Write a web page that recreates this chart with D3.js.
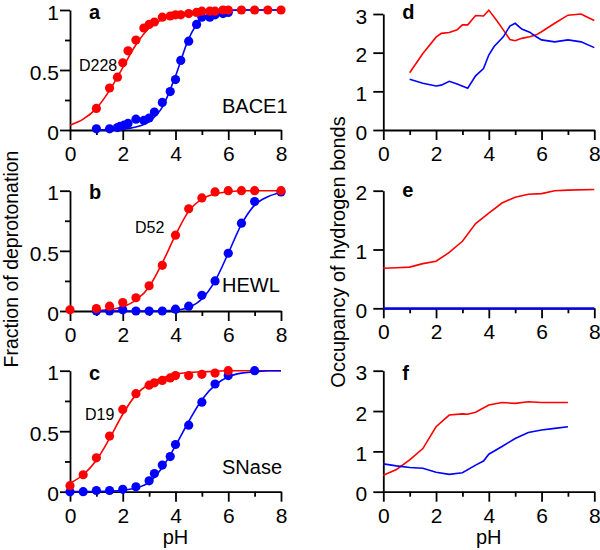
<!DOCTYPE html>
<html><head><meta charset="utf-8">
<script src="https://cdn.jsdelivr.net/npm/d3@7/dist/d3.min.js"></script>
<style>
body{margin:0;background:#fff;}
svg text{font-family:"Liberation Sans",Arial,Helvetica,sans-serif;fill:#000;}
</style></head><body>
<svg id="chart" width="600" height="550"></svg>
<script>
// ---------- DATA ----------
const fitPH = [0,0.5,1,1.5,2,2.5,3,3.5,4,4.5,5,5.5,6,6.5,7,7.5,8];

// Panel a: BACE1
const aRedPH  = [1.0,1.5,1.8,2.0,2.2,2.5,2.8,3.0,3.2,3.5,3.8,4.0,4.2,4.5,4.8,5.0,5.3,5.5,5.8,6.0,6.5,7.0,7.5,8.0];
const aRedVal = [0.18,0.35,0.44,0.56,0.66,0.75,0.85,0.88,0.90,0.94,0.95,0.96,0.96,0.97,0.98,0.99,0.99,0.99,1.0,1.0,1.0,1.0,1.0,1.0];
const aBluePH  = [1.0,1.5,1.8,1.9,2.05,2.2,2.5,2.8,3.0,3.2,3.5,3.8,4.0,4.2,4.5,4.8,5.0,5.3,5.5,5.8,6.0];
const aBlueVal = [0.01,0.01,0.02,0.03,0.04,0.055,0.09,0.08,0.10,0.15,0.23,0.32,0.42,0.58,0.74,0.88,0.94,0.94,0.96,0.97,0.98];
const aRedFit  = [0.04,0.09,0.18,0.33,0.52,0.71,0.85,0.92,0.96,0.98,0.99,0.995,1,1,1,1,1];
const aBlueFit = [null,null,0,0.003,0.008,0.025,0.07,0.19,0.45,0.76,0.93,0.98,0.995,1,1,1,1];

// Panel b: HEWL
const bRedPH  = [0,1,1.5,2,2.5,3,3.5,4,4.5,5,5.5,6,6.5,7,8];
const bRedVal = [0.01,0.02,0.04,0.07,0.11,0.21,0.38,0.63,0.85,0.94,0.99,1,1,1,1];
const bBluePH  = [1,1.5,2,2.5,3,3.5,4,4.5,5,5.5,6,6.5,7,8];
const bBlueVal = [0,0,0.01,0,0,0,0.015,0.04,0.13,0.25,0.48,0.73,0.91,0.99];
const bRedFit  = [null,null,0.005,0.012,0.035,0.09,0.2,0.4,0.63,0.83,0.93,0.975,0.99,1,1,1,1];
const bBlueFit = [null,null,0,0,0,0,0,0.001,0.008,0.03,0.1,0.25,0.48,0.72,0.88,0.95,0.985];

// Panel c: SNase
const cRedPH  = [0,0.5,1,1.5,2,2.5,3,3.2,3.5,3.8,4,4.5,5,5.5,6];
const cRedVal = [0.05,0.14,0.28,0.46,0.68,0.81,0.88,0.90,0.92,0.94,0.96,0.96,0.97,0.98,1.0];
const cBluePH  = [0,0.5,1,1.5,2,2.5,3,3.2,3.5,3.8,4,4.5,5,5.5,6,7];
const cBlueVal = [0,0,0.01,0.01,0.02,0.04,0.09,0.15,0.22,0.29,0.39,0.55,0.74,0.89,0.96,1.0];
const cRedFit  = [0.07,0.14,0.26,0.44,0.64,0.8,0.89,0.94,0.97,0.985,0.99,0.995,1,1,1,1,1];
const cBlueFit = [0,0.001,0.002,0.005,0.012,0.03,0.08,0.2,0.38,0.58,0.76,0.88,0.95,0.98,0.99,1,1];

// Panel d: BACE1 hydrogen bonds
const dRedPH  = [1.0,1.5,2.0,2.2,2.5,2.8,3.0,3.2,3.5,3.8,4.0,4.3,4.55,4.8,5.0,5.25,5.55,5.8,6.0,6.5,7.0,7.5,7.7,8.0];
const dRedVal = [1.48,1.98,2.40,2.50,2.52,2.59,2.72,2.72,2.96,2.95,3.10,2.83,2.59,2.34,2.31,2.37,2.41,2.46,2.54,2.76,2.97,3.0,2.93,2.83];
const dBluePH  = [1.0,1.5,2.0,2.2,2.5,2.8,3.2,3.5,3.8,4.0,4.2,4.55,4.8,5.0,5.25,5.55,5.8,6.0,6.5,7.0,7.5,8.0];
const dBlueVal = [1.31,1.21,1.14,1.16,1.26,1.19,1.08,1.40,1.59,1.94,2.16,2.41,2.69,2.76,2.61,2.53,2.41,2.33,2.28,2.33,2.28,2.13];

// Panel e: HEWL hydrogen bonds
const ePH      = [0,0.5,1,1.5,2,2.5,3,3.5,4,4.5,5,5.5,6,6.5,7,8];
const eRedVal  = [0.68,0.69,0.70,0.76,0.80,0.95,1.14,1.44,1.62,1.79,1.89,1.94,1.95,2.0,2.01,2.02];
const eBlueVal = [0,0,0,0,0,0,0,0,0,0,0,0,0,0,0,0];

// Panel f: SNase hydrogen bonds
const fRedPH   = [0,0.5,1,1.5,2,2.5,3,3.2,3.5,4,4.5,5,5.5,6,6.5,7];
const fRedVal  = [0.41,0.55,0.79,1.07,1.61,1.90,1.93,1.92,1.97,2.15,2.21,2.19,2.23,2.21,2.21,2.21];
const fBluePH  = [0,0.5,1,1.5,2,2.5,3,3.5,3.8,4,4.5,5,5.5,6,6.5,7];
const fBlueVal = [0.69,0.64,0.60,0.58,0.48,0.43,0.47,0.66,0.76,0.93,1.12,1.32,1.47,1.53,1.57,1.61];

const xTicksMajor = [0,2,4,6,8];
const xTicksMinor = [1,3,5,7];

// ---------- DRAW ----------
const RED = "#ff0000", BLUE = "#0000ff";
const svg = d3.select("#chart");
const zip = (xs, ys) => xs.map((x,i)=>({x, y: ys[i]})).filter(d => d.y !== null);

function panel(opt){
  const x = d3.scaleLinear().domain([0,8]).range(opt.xr);
  const y = d3.scaleLinear().domain(opt.yd).range(opt.yr);
  const g = svg.append("g");
  const fmt = d => String(d);
  // x axis
  g.append("g").attr("transform",`translate(0,${opt.yr[0]})`)
    .call(d3.axisBottom(x).tickValues(xTicksMajor).tickSize(10).tickSizeOuter(0).tickPadding(6).tickFormat(fmt));
  g.append("g").attr("transform",`translate(0,${opt.yr[0]})`)
    .call(d3.axisBottom(x).tickValues(xTicksMinor).tickSize(5).tickSizeOuter(0).tickFormat(""))
    .select(".domain").remove();
  // y axis
  const ya = g.append("g").attr("transform",`translate(${opt.xr[0]},0)`)
    .call(d3.axisLeft(y).tickValues(opt.yMajor).tickSize(10).tickSizeOuter(0).tickPadding(opt.yPad).tickFormat(fmt));
  ya.selectAll(".tick text").attr("dy","0.44em");
  if(opt.yMinor){
    g.append("g").attr("transform",`translate(${opt.xr[0]},0)`)
      .call(d3.axisLeft(y).tickValues(opt.yMinor).tickSize(5).tickSizeOuter(0).tickFormat(""))
      .select(".domain").remove();
  }
  g.selectAll(".domain, .tick line").attr("stroke","#000").attr("stroke-width",1.8);
  g.selectAll(".tick text").attr("font-size",21).attr("fill","#000")
    .style("font-family",'"Liberation Sans",Arial,sans-serif');
  // fits
  const line = d3.line().x(d=>x(d.x)).y(d=>y(d.y));
  (opt.fits||[]).forEach(f=>{
    g.append("path").datum(zip(fitPH,f.v)).attr("fill","none").attr("stroke",f.c)
      .attr("stroke-width",1.6).attr("d", line.curve(d3.curveMonotoneX));
  });
  (opt.lines||[]).forEach(f=>{
    g.append("path").datum(zip(f.px,f.v)).attr("fill","none").attr("stroke",f.c)
      .attr("stroke-width",f.w||1.6).attr("d", d3.line().x(d=>x(d.x)).y(d=>y(d.y)));
  });
  (opt.pts||[]).forEach(f=>{
    g.append("g").selectAll("circle").data(zip(f.px,f.v)).join("circle")
      .attr("cx",d=>x(d.x)).attr("cy",d=>y(d.y)).attr("r",4.6).attr("fill",f.c);
  });
  // panel letter
  g.append("text").attr("x",opt.xr[0]+19).attr("y",opt.letterY).attr("font-size",20)
    .attr("font-weight","bold").text(opt.letter);
  (opt.labels||[]).forEach(l=>{
    g.append("text").attr("x",l.x).attr("y",l.y).attr("font-size",l.s).text(l.t);
  });
  return g;
}

const LX = [70,281], RX = [383.3,594.3];

panel({xr:LX, yd:[0,1], yr:[130,10], yMajor:[0,0.5,1], yMinor:[0.25,0.75], yPad:1,
  letter:"a", letterY:18.5,
  fits:[{v:aRedFit,c:RED},{v:aBlueFit,c:BLUE}],
  pts:[{px:aBluePH,v:aBlueVal,c:BLUE},{px:aRedPH,v:aRedVal,c:RED}],
  labels:[{x:79,y:71,s:16,t:"D228"},{x:222,y:113,s:20,t:"BACE1"}]});

panel({xr:LX, yd:[0,1], yr:[311,190.7], yMajor:[0,0.5,1], yMinor:[0.25,0.75], yPad:1,
  letter:"b", letterY:198.5,
  fits:[{v:bRedFit,c:RED},{v:bBlueFit,c:BLUE}],
  pts:[{px:bBluePH,v:bBlueVal,c:BLUE},{px:bRedPH,v:bRedVal,c:RED}],
  labels:[{x:135,y:233,s:16,t:"D52"},{x:222,y:292,s:20,t:"HEWL"}]});

panel({xr:LX, yd:[0,1], yr:[491.7,370.7], yMajor:[0,0.5,1], yMinor:[0.25,0.75], yPad:1,
  letter:"c", letterY:380,
  fits:[{v:cRedFit,c:RED},{v:cBlueFit,c:BLUE}],
  pts:[{px:cBluePH,v:cBlueVal,c:BLUE},{px:cRedPH,v:cRedVal,c:RED}],
  labels:[{x:85,y:420,s:16,t:"D19"},{x:222,y:474,s:20,t:"SNase"}]});

panel({xr:RX, yd:[0,3], yr:[130,14], yMajor:[0,1,2,3], yPad:6,
  letter:"d", letterY:18.5,
  lines:[{px:dRedPH,v:dRedVal,c:RED},{px:dBluePH,v:dBlueVal,c:BLUE}]});

panel({xr:RX, yd:[0,2], yr:[308.3,190.7], yMajor:[0,1,2], yPad:6,
  letter:"e", letterY:197,
  lines:[{px:ePH,v:eRedVal,c:RED},{px:ePH,v:eBlueVal,c:BLUE,w:2.2}]});

panel({xr:RX, yd:[0,3], yr:[491.7,370.7], yMajor:[0,1,2,3], yPad:6,
  letter:"f", letterY:380,
  lines:[{px:fRedPH,v:fRedVal,c:RED},{px:fBluePH,v:fBlueVal,c:BLUE}]});

// axis titles
svg.append("text").attr("transform","translate(18,259) rotate(-90)").attr("text-anchor","middle")
  .attr("font-size",19.5).text("Fraction of deprotonation");
svg.append("text").attr("transform","translate(345,252) rotate(-90)").attr("text-anchor","middle")
  .attr("font-size",20).text("Occupancy of hydrogen bonds");
svg.append("text").attr("x",175.5).attr("y",544).attr("text-anchor","middle").attr("font-size",20).text("pH");
svg.append("text").attr("x",488.8).attr("y",544).attr("text-anchor","middle").attr("font-size",20).text("pH");
</script>
</body></html>
